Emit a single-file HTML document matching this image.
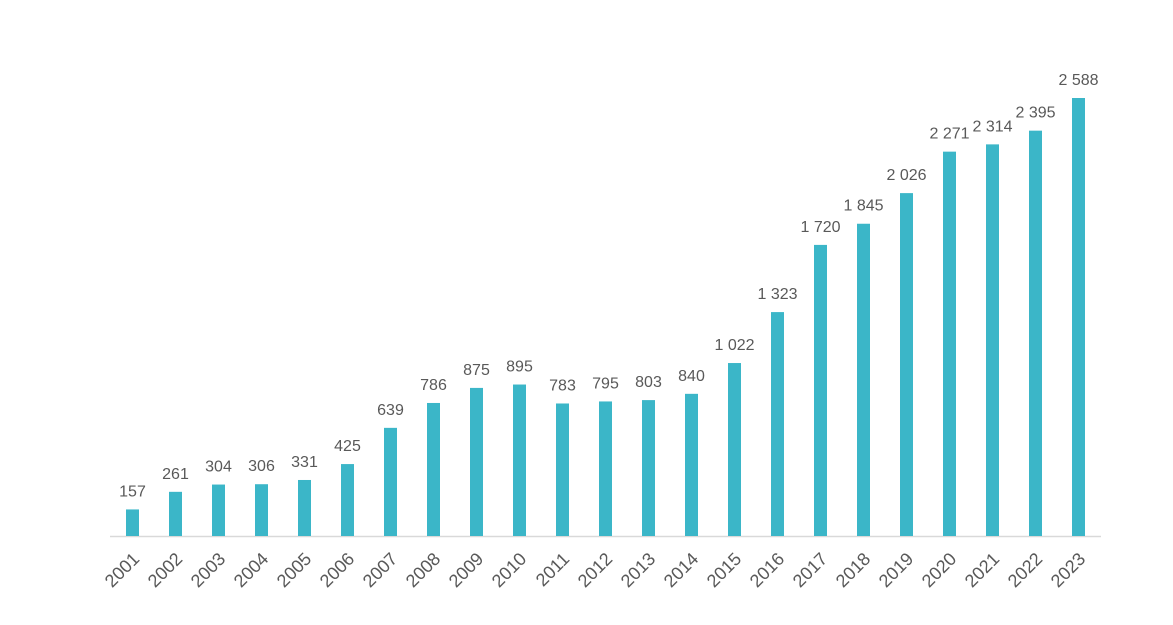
<!DOCTYPE html>
<html><head><meta charset="utf-8"><style>
html,body{margin:0;padding:0;background:#fff;}
svg text{font-family:"Liberation Sans",sans-serif;fill:#595959;}
</style></head><body>
<svg id="chart" width="1173" height="620" xmlns="http://www.w3.org/2000/svg">
<line x1="110" y1="536.5" x2="1101" y2="536.5" stroke="#d9d9d9" stroke-width="1.5"/>
<g id="bars"></g>
</svg>
<script>
const years = ["2001","2002","2003","2004","2005","2006","2007","2008","2009","2010","2011","2012","2013","2014","2015","2016","2017","2018","2019","2020","2021","2022","2023"];
const values = [157,261,304,306,331,425,639,786,875,895,783,795,803,840,1022,1323,1720,1845,2026,2271,2314,2395,2588];
const valueLabels = ["157","261","304","306","331","425","639","786","875","895","783","795","803","840","1 022","1 323","1 720","1 845","2 026","2 271","2 314","2 395","2 588"];
const NS="http://www.w3.org/2000/svg";
const g=document.getElementById('bars');
const x0=132.5, step=43, base=536, bw=13;
const xs=i=>x0+i*step;
const ys=v=>base-v*(438/2588);
years.forEach((yr,i)=>{
  const cx=xs(i), top=ys(values[i]);
  const r=document.createElementNS(NS,'rect');
  r.setAttribute('x',cx-bw/2);r.setAttribute('y',top);
  r.setAttribute('width',bw);r.setAttribute('height',base-top);
  r.setAttribute('fill','#3bb6c8');
  
  
  g.appendChild(r);
  const t=document.createElementNS(NS,'text');
  t.setAttribute('x',cx);t.setAttribute('y',top-13);
  t.setAttribute('text-anchor','middle');t.setAttribute('font-size','16');
  t.textContent=valueLabels[i];
  
  
  g.appendChild(t);
  const l=document.createElementNS(NS,'text');
  l.setAttribute('x',cx+8);l.setAttribute('y',560);
  l.setAttribute('text-anchor','end');l.setAttribute('font-size','18');
  l.setAttribute('transform','rotate(-45 '+(cx+8)+' 560)');
  l.textContent=yr;
  
  
  g.appendChild(l);
});
</script>
</body></html>
